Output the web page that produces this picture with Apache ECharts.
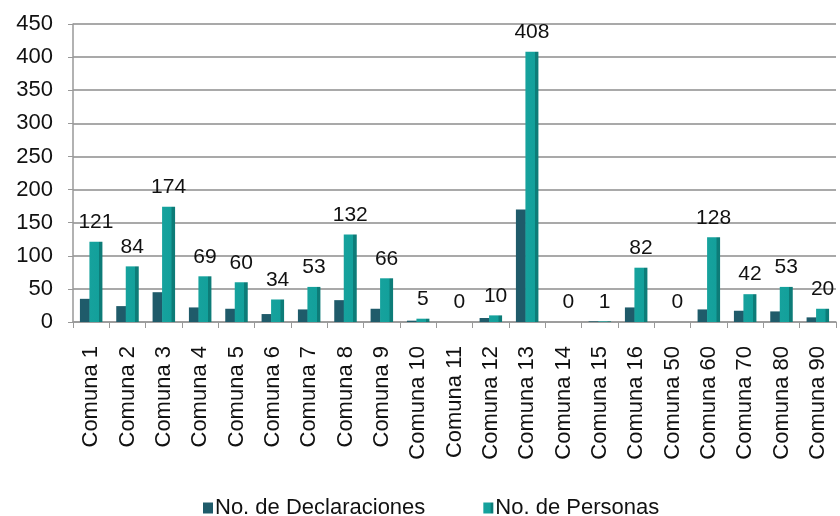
<!DOCTYPE html>
<html>
<head>
<meta charset="utf-8">
<script src="https://cdn.jsdelivr.net/npm/echarts@6/dist/echarts.min.js"></script>
<style>
  html, body { margin: 0; padding: 0; background: #fff; }
  #chart { width: 840px; height: 516px; }
</style>
</head>
<body>
<div id="chart"></div>
<script>
var comunas = ['Comuna 1', 'Comuna 2', 'Comuna 3', 'Comuna 4', 'Comuna 5', 'Comuna 6', 'Comuna 7',
    'Comuna 8', 'Comuna 9', 'Comuna 10', 'Comuna 11', 'Comuna 12', 'Comuna 13', 'Comuna 14',
    'Comuna 15', 'Comuna 16', 'Comuna 50', 'Comuna 60', 'Comuna 70', 'Comuna 80', 'Comuna 90'];
// declaraciones: no labels in the picture
var declaraciones = [35, 24, 45, 22, 20, 12, 19, 33, 20, 2, 0, 6, 170, 0, 1, 22, 0, 19, 17, 16, 7];
var personas = [121, 84, 174, 69, 60, 34, 53, 132, 66, 5, 0, 10, 408, 0, 1, 82, 0, 128, 42, 53, 20];

var chart = echarts.init(document.getElementById('chart'));

var font = 'Liberation Sans, Arial, sans-serif';

var option = {
    animation: false,
    textStyle: {fontFamily: font},
    grid: {left: 73, right: 4, top: 24, bottom: 194},
    legend: {
        top: 492,
        left: 198,
        itemWidth: 10,
        itemHeight: 11,
        itemGap: 58,
        icon: 'rect',
        textStyle: {fontSize: 22, color: '#111', fontFamily: font, padding: [0, 0, 0, -3]},
        data: ['No. de Declaraciones', 'No. de Personas']
    },
    xAxis: {
        type: 'category',
        data: comunas,
        axisLine: {lineStyle: {color: '#999', width: 1.5}},
        axisTick: {show: true, length: 6, lineStyle: {color: '#999'}},
        axisLabel: {rotate: 90, fontSize: 22, color: '#111', margin: 24, interval: 0}
    },
    yAxis: {
        type: 'value',
        min: 0,
        max: 450,
        interval: 50,
        axisLine: {show: true, lineStyle: {color: '#999', width: 1.5}},
        axisTick: {show: true, length: 5, lineStyle: {color: '#999'}},
        axisLabel: {fontSize: 22, color: '#111', margin: 20},
        splitLine: {lineStyle: {color: '#8c8c8c', width: 1.6}}
    },
    series: [
        {
            name: 'No. de Declaraciones',
            type: 'bar',
            data: declaraciones,
            barWidth: 10,
            barGap: '-5%',
            barCategoryGap: '40%',
            itemStyle: {color: '#1f5b6a'}
        },
        {
            name: 'No. de Personas',
            type: 'bar',
            data: personas,
            barWidth: 13,
            itemStyle: {
                color: new echarts.graphic.LinearGradient(0, 0, 1, 0, [
                    {offset: 0, color: '#16a29d'},
                    {offset: 0.7, color: '#13a09b'},
                    {offset: 0.75, color: '#0d7c78'},
                    {offset: 1, color: '#0d7c78'}
                ])
            },
            label: {
                show: true,
                position: 'top',
                distance: 9,
                fontSize: 21,
                color: '#111'
            }
        }
    ]
};

chart.setOption(option);
</script>
</body>
</html>
